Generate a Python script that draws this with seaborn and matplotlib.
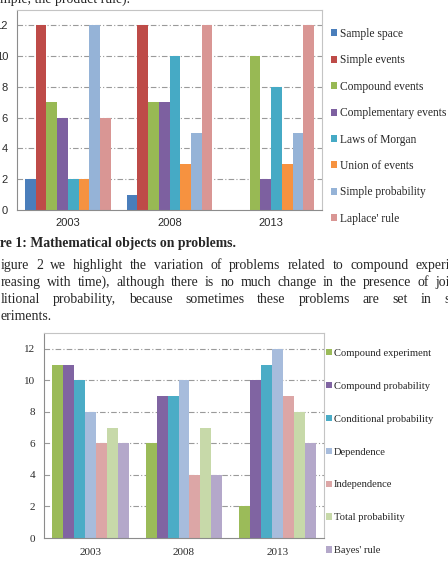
import numpy as np
import pandas as pd
import matplotlib
matplotlib.use("Agg")
import matplotlib.pyplot as plt
import seaborn as sns
from matplotlib.patches import Patch

# ---- data -----------------------------------------------------------------
YEARS = ["2003", "2008", "2013"]

OBJ_LABELS = ["Sample space", "Simple events", "Compound events",
              "Complementary events", "Laws of Morgan", "Union of events",
              "Simple probability", "Laplace' rule"]
OBJ_VALUES = [
    [2, 1, 0],      # Sample space
    [12, 12, 0],    # Simple events
    [7, 7, 10],     # Compound events
    [6, 7, 2],      # Complementary events
    [2, 10, 8],     # Laws of Morgan
    [2, 3, 3],      # Union of events
    [12, 5, 5],     # Simple probability
    [6, 12, 12],    # Laplace' rule
]
OBJ_COLORS = ["#4A7EBB", "#BE4B48", "#98B954", "#7D60A0",
              "#46AAC5", "#F69240", "#95B3D7", "#D99694"]

CMP_LABELS = ["Compound experiment", "Compound probability",
              "Conditional probability", "Dependence", "Independence",
              "Total probability", "Bayes' rule"]
CMP_VALUES = [
    [11, 6, 2],     # Compound experiment
    [11, 9, 10],    # Compound probability
    [10, 9, 11],    # Conditional probability
    [8, 10, 12],    # Dependence
    [6, 4, 9],      # Independence
    [7, 7, 8],      # Total probability
    [6, 4, 6],      # Bayes' rule
]
CMP_COLORS = ["#9BBB59", "#8064A2", "#4BACC6", "#A7BCDC",
              "#DCA6A6", "#C7D9A9", "#B4A8CA"]

TOP_LINE = "mple, the product rule)."
CAPTION = "re 1: Mathematical objects on problems."
BODY = [
    "igure 2 we highlight the variation of problems related to compound experi",
    "reasing with time), although there is no much change in the presence of joi",
    "litional probability, because sometimes these problems are set in s",
]
LAST_LINE = "eriments."

W, H = 448, 561
SERIF = "Liberation Serif"
SANS = "Liberation Sans"


def long_form(labels, values):
    rows = []
    for lab, vals in zip(labels, values):
        for yr, v in zip(YEARS, vals):
            rows.append(dict(year=yr, series=lab, value=v))
    return pd.DataFrame(rows)


def px_box(left, right, top, bottom):
    return [left / W, 1 - bottom / H, (right - left) / W, (bottom - top) / H]


def style_axis(ax, tick_family, ypad, xpad, ylen):
    ax.set_xlim(-0.5, 2.5)
    ax.set_ylim(0, 13)
    ax.set_yticks(range(0, 13, 2))
    ax.set_xlabel("")
    ax.set_ylabel("")
    ax.set_xticks([0, 1, 2])
    ax.set_xticks([-0.5, 0.5, 1.5, 2.5], minor=True)
    ax.tick_params(axis="x", which="major", length=0, pad=xpad,
                   labelsize=8, labelcolor="#2b2b2b")
    ax.tick_params(axis="x", which="minor", length=3, width=0.8,
                   color="#8c8c8c", direction="out")
    ax.tick_params(axis="y", length=ylen, width=0.8, color="#8c8c8c",
                   pad=ypad, labelsize=8, labelcolor="#2b2b2b")
    for lab in ax.get_xticklabels() + ax.get_yticklabels():
        lab.set_family(tick_family)
    ax.grid(False)
    for y in range(2, 13, 2):
        ax.axhline(y, color="#9a9a9a", lw=0.8, ls=(0, (5, 2, 1, 2)), zorder=0)
    for side in ["top", "right"]:
        ax.spines[side].set_color("#c4c4c4")
        ax.spines[side].set_linewidth(0.8)
    for side in ["left", "bottom"]:
        ax.spines[side].set_color("#8c8c8c")
        ax.spines[side].set_linewidth(0.8)
    ax.set_axisbelow(True)


def put_justified(fig, words_line, y_px, x0, x1, **kw):
    r = fig.canvas.get_renderer()
    words = words_line.split()
    texts = [fig.text(0, 1 - y_px / H, w, va="baseline", ha="left", **kw)
             for w in words]
    widths = [t.get_window_extent(r).width for t in texts]
    gap = (x1 - x0 - sum(widths)) / max(len(words) - 1, 1)
    x = x0
    for t, w in zip(texts, widths):
        t.set_x(x / W)
        x += w + gap


sns.set_theme(style="white")
plt.rcParams["font.family"] = [SERIF, "DejaVu Serif"]

fig = plt.figure(figsize=(W / 100, H / 100), dpi=100)
fig.patch.set_facecolor("white")

# ---- chart 1 --------------------------------------------------------------
ax1 = fig.add_axes(px_box(17, 322, 10, 210))
sns.barplot(data=long_form(OBJ_LABELS, OBJ_VALUES), x="year", y="value",
            hue="series", hue_order=OBJ_LABELS, order=YEARS,
            palette=OBJ_COLORS, saturation=1, width=8 / 9.5,
            edgecolor="none", linewidth=0, legend=False, ax=ax1)
style_axis(ax1, SANS, ypad=5, xpad=5.5, ylen=1.5)
ax1.legend([Patch(facecolor=c, edgecolor="none") for c in OBJ_COLORS],
           OBJ_LABELS, loc="upper left", bbox_to_anchor=(331 / W, 1 - 28 / H),
           bbox_transform=fig.transFigure, frameon=False, fontsize=8.3,
           handlelength=0.55, handleheight=0.55, handletextpad=0.2,
           labelspacing=1.25, borderpad=0, borderaxespad=0)

# ---- chart 2 --------------------------------------------------------------
ax2 = fig.add_axes(px_box(44, 324, 333, 538))
sns.barplot(data=long_form(CMP_LABELS, CMP_VALUES), x="year", y="value",
            hue="series", hue_order=CMP_LABELS, order=YEARS,
            palette=CMP_COLORS, saturation=1, width=7 / 8.5,
            edgecolor="none", linewidth=0, legend=False, ax=ax2)
style_axis(ax2, SERIF, ypad=4.3, xpad=7, ylen=2.2)
ax2.legend([Patch(facecolor=c, edgecolor="none") for c in CMP_COLORS],
           CMP_LABELS, loc="upper left", bbox_to_anchor=(326 / W, 1 - 349 / H),
           bbox_transform=fig.transFigure, frameon=False, fontsize=7.6,
           handlelength=0.55, handleheight=0.55, handletextpad=0.2,
           labelspacing=2.26, borderpad=0, borderaxespad=0)

# ---- surrounding page text -------------------------------------------------
fig.text(0.5 / W, 1 - 2.5 / H, TOP_LINE, fontsize=9.9, va="baseline")
fig.text(0.5 / W, 1 - 247 / H, CAPTION, fontsize=9.9, weight="bold",
         va="baseline")
for line, y in zip(BODY, [269, 286, 303]):
    put_justified(fig, line, y, 0.5, 450, fontsize=9.9)
fig.text(0.5 / W, 1 - 320 / H, LAST_LINE, fontsize=9.9, va="baseline")

fig.savefig("out.png", dpi=100)
